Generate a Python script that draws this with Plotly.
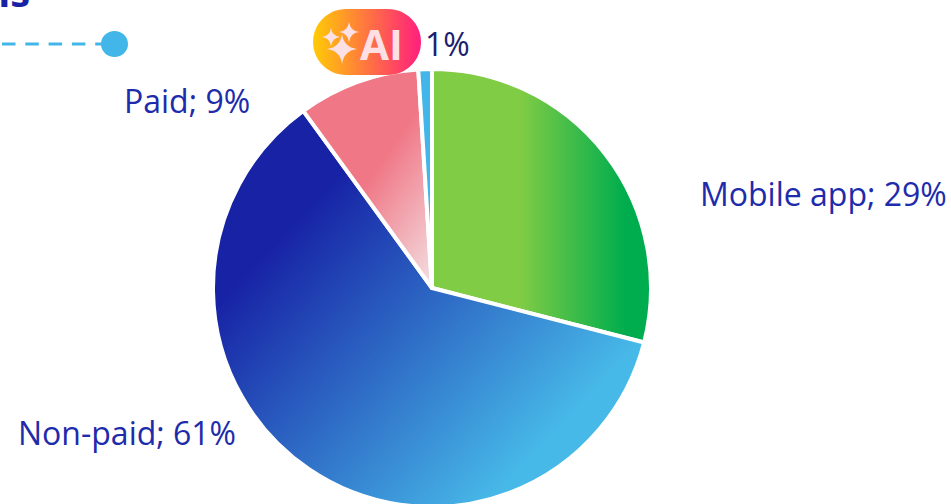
import plotly.graph_objects as go

W, H = 951, 510  # canvas runs slightly past the window so the pie can bleed off the bottom

labels = ["Mobile app", "Non-paid", "Paid", "AI"]
values = [29, 61, 9, 1]
slice_colors = ["#80cc44", "#2a5cc0", "#f07786", "#42b6e8"]
label_texts = ["Mobile app; 29%", "Non-paid; 61%", "Paid; 9%", "1%"]
label_colors = ["#1e2bab", "#1e2bab", "#1e2bab", "#1b2070"]

INK = "#42b6e8"
CX, CY, R = 432, 288, 219


def px(x):
    return x / W


def py(y):
    return 1 - y / H


fig = go.Figure(
    go.Pie(
        labels=labels,
        values=values,
        sort=False,
        direction="clockwise",
        rotation=0,
        textinfo="none",
        hoverinfo="label+percent",
        marker=dict(colors=slice_colors, line=dict(color="#ffffff", width=4)),
        domain=dict(x=[px(CX - R), px(CX + R)], y=[py(CY + R), py(CY - R)]),
        showlegend=False,
    )
)

# slice captions
caption_pos = [(698, 193), (16, 432), (122, 101), (423, 43)]
annotations = []
for text, color, (x, y) in zip(label_texts, label_colors, caption_pos):
    annotations.append(
        dict(
            text=text, x=px(x), y=py(y), xref="paper", yref="paper",
            xanchor="left", yanchor="middle", showarrow=False,
            font=dict(family="Open Sans", size=32, color=color),
        )
    )
# clipped heading along the top edge
annotations.append(
    dict(
        text="<b>ns</b>", x=px(-18), y=py(-9), xref="paper", yref="paper",
        xanchor="left", yanchor="middle", showarrow=False,
        font=dict(family="Open Sans", size=40, color="#1722a5"),
    )
)
# badge lettering
annotations.append(
    dict(
        text="<b>AI</b>", x=px(381), y=py(43), xref="paper", yref="paper",
        xanchor="center", yanchor="middle", showarrow=False,
        font=dict(family="Open Sans", size=42, color="#fde0e4"),
    )
)


def star(cx, cy, r):
    k = r * 0.12
    return (
        f"M{px(cx)},{py(cy - r)} Q{px(cx + k)},{py(cy - k)} {px(cx + r)},{py(cy)} "
        f"Q{px(cx + k)},{py(cy + k)} {px(cx)},{py(cy + r)} "
        f"Q{px(cx - k)},{py(cy + k)} {px(cx - r)},{py(cy)} "
        f"Q{px(cx - k)},{py(cy - k)} {px(cx)},{py(cy - r)} Z"
    )


def pill(x0, y0, x1, y1):
    r = (y1 - y0) / 2
    c = r * 0.45
    return (
        f"M{px(x0 + r)},{py(y0)} L{px(x1 - r)},{py(y0)} "
        f"C{px(x1 - c)},{py(y0)} {px(x1)},{py(y0 + c)} {px(x1)},{py(y0 + r)} "
        f"C{px(x1)},{py(y1 - c)} {px(x1 - c)},{py(y1)} {px(x1 - r)},{py(y1)} "
        f"L{px(x0 + r)},{py(y1)} "
        f"C{px(x0 + c)},{py(y1)} {px(x0)},{py(y1 - c)} {px(x0)},{py(y0 + r)} "
        f"C{px(x0)},{py(y0 + c)} {px(x0 + c)},{py(y0)} {px(x0 + r)},{py(y0)} Z"
    )


shapes = [
    # dashed leader with its end dot
    dict(type="line", xref="paper", yref="paper", x0=px(2), x1=px(104), y0=py(44), y1=py(44),
         line=dict(color=INK, width=3, dash="13.5px,9.8px")),
    dict(type="circle", xref="paper", yref="paper", x0=px(101), x1=px(128), y0=py(31), y1=py(57),
         fillcolor=INK, line=dict(width=0)),
    # AI badge
    dict(type="path", xref="paper", yref="paper", path=pill(313, 9, 421, 75),
         fillcolor="#ff7a45", line=dict(width=0), name="badge"),
    dict(type="path", xref="paper", yref="paper", path=star(331, 37, 9),
         fillcolor="#fde0e4", line=dict(width=0)),
    dict(type="path", xref="paper", yref="paper", path=star(349, 32, 10),
         fillcolor="#fde0e4", line=dict(width=0)),
    dict(type="path", xref="paper", yref="paper", path=star(342, 49, 15),
         fillcolor="#fde0e4", line=dict(width=0)),
]

fig.update_layout(
    width=W,
    height=H,
    margin=dict(l=0, r=0, t=0, b=0),
    paper_bgcolor="#ffffff",
    plot_bgcolor="#ffffff",
    annotations=annotations,
    shapes=shapes,
)

# Plotly has no gradient fill for slices or shapes, so the gradients are attached after drawing.
post_script = """
document.documentElement.style.overflow = 'hidden';
document.body.style.overflow = 'hidden';
var gd = document.querySelector('.plotly-graph-div');
var NS = 'http://www.w3.org/2000/svg';
var svg = gd.querySelector('svg.main-svg');
var defs = svg.querySelector('defs');
function grad(id, v, stops) {
  var g = document.createElementNS(NS, 'linearGradient');
  g.setAttribute('id', id);
  g.setAttribute('gradientUnits', 'userSpaceOnUse');
  g.setAttribute('x1', v[0]); g.setAttribute('y1', v[1]);
  g.setAttribute('x2', v[2]); g.setAttribute('y2', v[3]);
  stops.forEach(function (s) {
    var e = document.createElementNS(NS, 'stop');
    e.setAttribute('offset', s[0]);
    e.setAttribute('stop-color', s[1]);
    g.appendChild(e);
  });
  defs.appendChild(g);
}
grad('g-mobile', [520, 0, 625, 0], [[0, '#80cc44'], [1, '#00ad4e']]);
grad('g-nonpaid', [290, 225, 535, 455], [[0, '#1722a5'], [1, '#47b9e8']]);
grad('g-paid', [387, 153, 482, 218], [[0, '#f07786'], [1, '#f3e2e4']]);
var paths = gd.querySelectorAll('.slice path.surface');
['g-mobile', 'g-nonpaid', 'g-paid'].forEach(function (id, i) {
  paths[i].style.fill = 'url(#' + id + ')';
});
var all = gd.querySelectorAll('.shapelayer path');
for (var i = 0; i < all.length; i++) {
  if (all[i].style.fill === 'rgb(255, 122, 69)') {
    var b = all[i].getBBox();
    grad('g-badge', [b.x, 0, b.x + b.width, 0], [[0, '#ffcb05'], [1, '#ff1f7d']]);
    all[i].style.fill = 'url(#g-badge)';
  }
}
"""

fig.write_html("out.html", post_script=post_script, config=dict(displayModeBar=False))
